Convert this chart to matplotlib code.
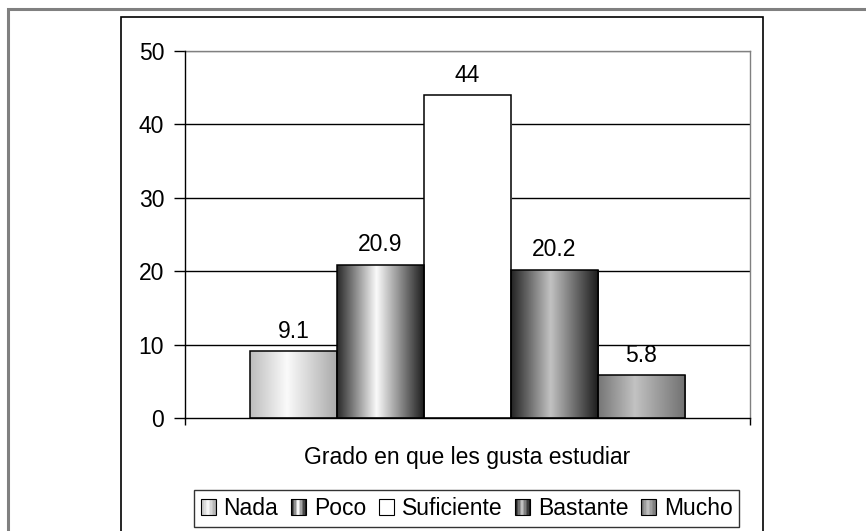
import numpy as np
import matplotlib
matplotlib.use("Agg")
import matplotlib.pyplot as plt
from matplotlib.patches import Rectangle
from matplotlib.legend_handler import HandlerBase

categories = ["Nada", "Poco", "Suficiente", "Bastante", "Mucho"]
values = [9.1, 20.9, 44, 20.2, 5.8]
value_labels = ["9.1", "20.9", "44", "20.2", "5.8"]
yticks = [0, 10, 20, 30, 40, 50]
xlabel = "Grado en que les gusta estudiar"

# horizontal gradient stops (position, gray level) for each series
gradients = [
    [(0.0, 0.74), (0.42, 0.98), (1.0, 0.66)],
    [(0.0, 0.16), (0.45, 0.98), (1.0, 0.10)],
    [(0.0, 1.0), (1.0, 1.0)],
    [(0.0, 0.14), (0.45, 0.76), (1.0, 0.10)],
    [(0.0, 0.46), (0.42, 0.76), (1.0, 0.44)],
]

plt.rcParams['font.family'] = ['Liberation Sans', 'DejaVu Sans']
FS = 16.5

W, H = 866, 531
fig = plt.figure(figsize=(W / 100, H / 100), dpi=100)

def fx(px):
    return px / W

def fy(py):
    return 1 - py / H

# outer gray frame and inner black frame
fig.add_artist(Rectangle((fx(8), fy(560)), fx(900 - 8), fy(9) - fy(560),
                         transform=fig.transFigure, fill=False,
                         edgecolor="#808080", linewidth=2.2))
fig.add_artist(Rectangle((fx(121), fy(560)), fx(763 - 121), fy(17) - fy(560),
                         transform=fig.transFigure, fill=False,
                         edgecolor="black", linewidth=1.2))

ax = fig.add_axes([fx(185), fy(418), fx(750 - 185), fy(51) - fy(418)])

def grad_row(stops, n=200):
    xs = np.linspace(0, 1, n)
    pos = [s[0] for s in stops]
    lv = [s[1] for s in stops]
    return np.interp(xs, pos, lv)

n = len(categories)
xpos = np.arange(n) - (n - 1) / 2
width = 1.0

for i, (x, v) in enumerate(zip(xpos, values)):
    bar = ax.bar(x, v, width=width, facecolor="none", edgecolor="black",
                 linewidth=1.1, zorder=4)[0]
    row = grad_row(gradients[i])
    img = np.tile(row, (2, 1))
    im = ax.imshow(img, cmap="gray", vmin=0, vmax=1, aspect="auto",
                   extent=(x - width / 2, x + width / 2, 0, v),
                   interpolation="bilinear", zorder=3)
    clip = Rectangle((x - width / 2, 0), width, v, transform=ax.transData)
    im.set_clip_path(clip)
    ax.annotate(value_labels[i], (x, v), xytext=(0, 6), textcoords="offset points",
                ha="center", va="bottom", fontsize=FS, color="black", zorder=5)

ax.set_xlim(-3.247, 3.247)
ax.set_ylim(0, 50)
ax.set_yticks(yticks)
ax.set_yticklabels([str(t) for t in yticks], fontsize=FS)
ax.tick_params(axis="y", length=8, width=1, pad=7, direction="out")
ax.set_xticks([-3.247, 3.247])
ax.set_xticklabels(["", ""])
ax.tick_params(axis="x", length=5, width=1, direction="out")

for t in yticks[1:-1]:
    ax.axhline(t, color="black", linewidth=1.0, zorder=1)
ax.axhline(50, color="#808080", linewidth=1.0, zorder=1)

ax.spines["left"].set_color("black")
ax.spines["bottom"].set_color("black")
ax.spines["top"].set_color("#808080")
ax.spines["right"].set_color("#808080")
for s in ax.spines.values():
    s.set_linewidth(1.0)
ax.spines["left"].set_zorder(6)
ax.spines["bottom"].set_zorder(6)

ax.set_xlabel(xlabel, fontsize=FS, labelpad=12)


class GradHandle:
    def __init__(self, stops):
        self.stops = stops


class GradHandler(HandlerBase):
    def create_artists(self, legend, orig_handle, xdescent, ydescent, width,
                       height, fontsize, trans):
        size = min(width, height) * 0.95
        x0 = -xdescent + (width - size) / 2
        y0 = -ydescent + (height - size) / 2
        arts = []
        k = 10
        row = grad_row(orig_handle.stops, k)
        for j in range(k):
            g = row[j]
            r = Rectangle((x0 + j * size / k, y0), size / k + 0.05, size,
                          facecolor=(g, g, g), edgecolor="none",
                          transform=trans)
            arts.append(r)
        arts.append(Rectangle((x0, y0), size, size, facecolor="none",
                              edgecolor="black", linewidth=0.8,
                              transform=trans))
        return arts


handles = [GradHandle(g) for g in gradients]
leg = fig.legend(handles, categories,
                 handler_map={GradHandle: GradHandler()},
                 loc="center", bbox_to_anchor=(fx(466.5), fy(508.5)),
                 ncol=5, fontsize=FS, frameon=True, fancybox=False,
                 edgecolor="black", handlelength=0.7, handleheight=0.7,
                 handletextpad=0.3, columnspacing=0.55, borderpad=0.3,
                 borderaxespad=0)
leg.get_frame().set_linewidth(1.0)

fig.savefig("out.png", dpi=100)
